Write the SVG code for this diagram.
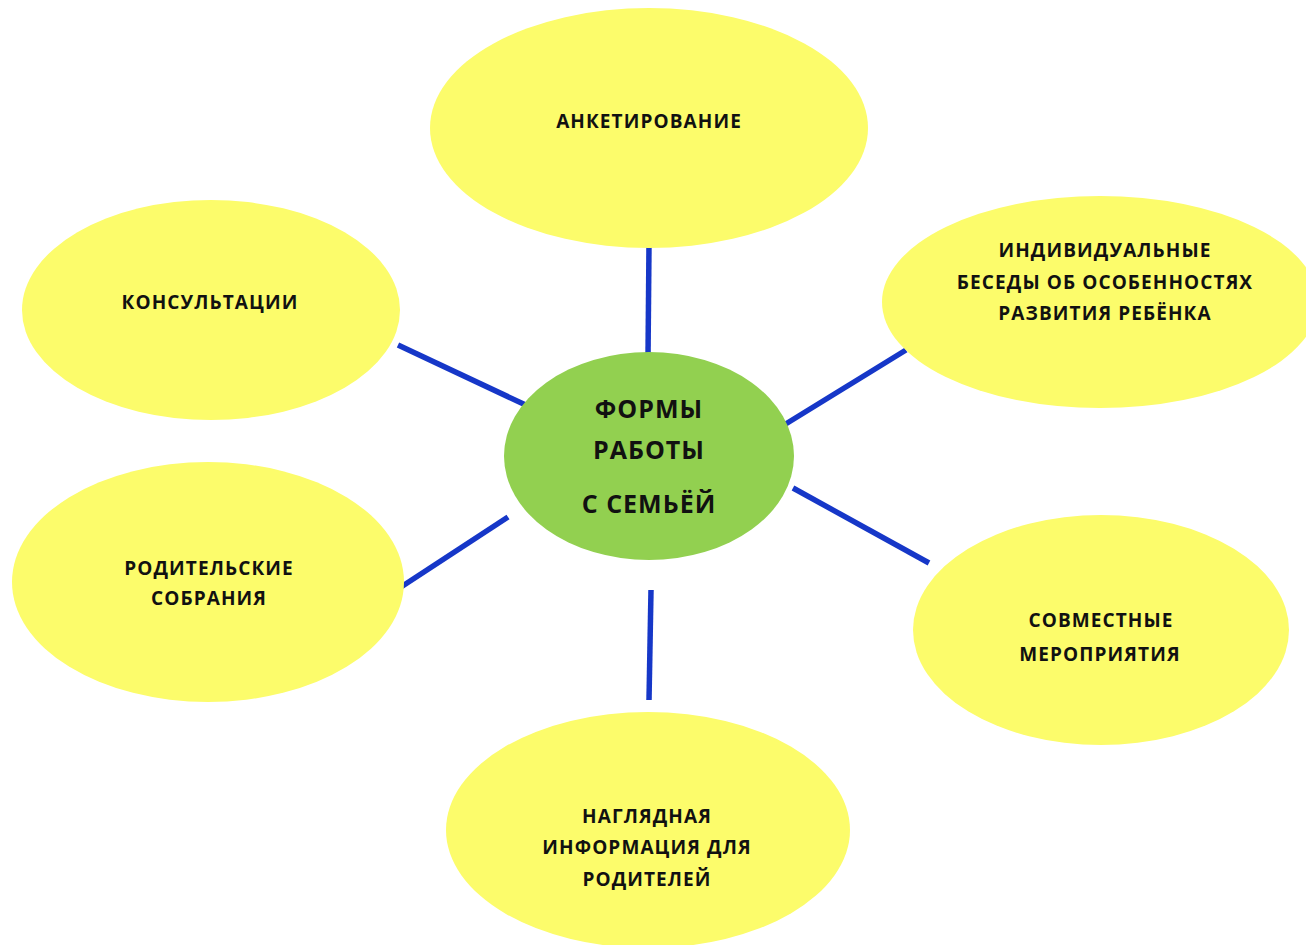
<svg xmlns="http://www.w3.org/2000/svg" width="1306" height="945" viewBox="0 0 1306 945">
<style>
.y{fill:#fcfc6b}
.g{fill:#92d050}
.t{font-family:"Open Sans","Liberation Sans",sans-serif;font-weight:bold;font-size:19px;letter-spacing:1.1px;fill:#111;text-anchor:middle;dominant-baseline:central}
.c{font-size:25px;letter-spacing:1px}
.l{stroke:#1637c8;stroke-width:5.5;stroke-linecap:butt}
</style>
<rect width="1306" height="945" fill="#fff"/>
<g id="connectors">
<line class="l" x1="649" y1="245" x2="648" y2="357"/>
<line class="l" x1="398" y1="345" x2="530" y2="407"/>
<line class="l" x1="906" y1="350" x2="784" y2="425"/>
<line class="l" x1="401" y1="587" x2="508" y2="517"/>
<line class="l" x1="793" y1="488" x2="929" y2="563"/>
<line class="l" x1="651" y1="590" x2="649" y2="700"/>
</g>
<g id="center">
<ellipse class="g" cx="649" cy="456" rx="145" ry="104"/>
<text class="t c" x="649" y="408">ФОРМЫ</text>
<text class="t c" x="649" y="449">РАБОТЫ</text>
<text class="t c" x="649" y="503">С СЕМЬЁЙ</text>
</g>
<g id="n1">
<ellipse class="y" cx="649" cy="128" rx="219" ry="120"/>
<text class="t" x="649" y="121">АНКЕТИРОВАНИЕ</text>
</g>
<g id="n2">
<ellipse class="y" cx="211" cy="310" rx="189" ry="110"/>
<text class="t" x="210" y="302">КОНСУЛЬТАЦИИ</text>
</g>
<g id="n3">
<ellipse class="y" cx="1100" cy="302" rx="218" ry="106"/>
<text class="t" x="1105" y="250">ИНДИВИДУАЛЬНЫЕ</text>
<text class="t" x="1105" y="282">БЕСЕДЫ ОБ ОСОБЕННОСТЯХ</text>
<text class="t" x="1105" y="313">РАЗВИТИЯ РЕБЁНКА</text>
</g>
<g id="n4">
<ellipse class="y" cx="208" cy="582" rx="196" ry="120"/>
<text class="t" x="209" y="568">РОДИТЕЛЬСКИЕ</text>
<text class="t" x="209" y="598">СОБРАНИЯ</text>
</g>
<g id="n5">
<ellipse class="y" cx="1101" cy="630" rx="188" ry="115"/>
<text class="t" x="1101" y="620">СОВМЕСТНЫЕ</text>
<text class="t" x="1100" y="654">МЕРОПРИЯТИЯ</text>
</g>
<g id="n6">
<ellipse class="y" cx="648" cy="830" rx="202" ry="118"/>
<text class="t" x="647" y="816">НАГЛЯДНАЯ</text>
<text class="t" x="647" y="847">ИНФОРМАЦИЯ ДЛЯ</text>
<text class="t" x="647" y="879">РОДИТЕЛЕЙ</text>
</g>
</svg>
